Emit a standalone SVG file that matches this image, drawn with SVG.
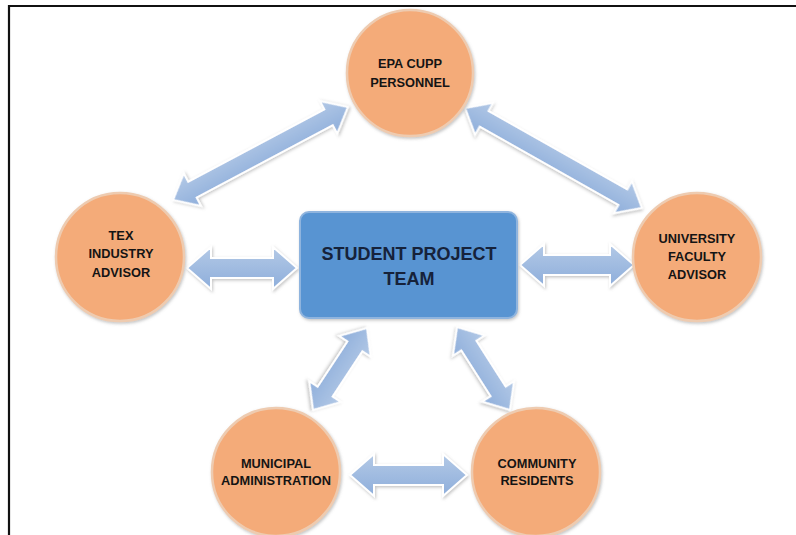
<svg xmlns="http://www.w3.org/2000/svg" width="796" height="535" viewBox="0 0 796 535">
<defs>
<filter id="sh" x="-20%" y="-20%" width="140%" height="140%">
<feDropShadow dx="1" dy="1.5" stdDeviation="1.5" flood-color="#7a7a7a" flood-opacity="0.45"/>
</filter>
<linearGradient id="ag" x1="0" y1="0" x2="0" y2="1">
<stop offset="0" stop-color="#b3c9e6"/>
<stop offset="1" stop-color="#8eaedb"/>
</linearGradient>
</defs>
<style>
.circ{fill:#f4ab79;stroke:#eecbb0;stroke-width:2.5;filter:url(#sh)}
.box{fill:#5894d2;stroke:#8fb4de;stroke-width:2;filter:url(#sh)}
.arr{fill:url(#ag);stroke:#ffffff;stroke-width:2;stroke-linejoin:miter;filter:url(#sh)}
.t{font-family:"Liberation Sans",Arial,sans-serif;font-weight:bold;font-size:12.8px;fill:#141414;text-anchor:middle}
.tb{font-family:"Liberation Sans",Arial,sans-serif;font-weight:bold;font-size:18px;fill:#16223a;text-anchor:middle}
</style>
<rect width="796" height="535" fill="#ffffff"/>
<g id="border" stroke="#111" stroke-width="2.2" fill="none">
<line x1="8" y1="6" x2="796" y2="6"/>
<line x1="9" y1="5" x2="9" y2="535"/>
</g>
<g id="connectors">
<path class="arr" transform="translate(260.5,153.5) rotate(-27.99)" d="M-99.1 0 L-77.1 -18.5 L-77.1 -9 L77.1 -9 L77.1 -18.5 L99.1 0 L77.1 18.5 L77.1 9 L-77.1 9 L-77.1 18.5 Z"/>
<path class="arr" transform="translate(553.5,158) rotate(29.46)" d="M-101.6 0 L-79.6 -18.5 L-79.6 -9 L79.6 -9 L79.6 -18.5 L101.6 0 L79.6 18.5 L79.6 9 L-79.6 9 L-79.6 18.5 Z"/>
<path class="arr" transform="translate(242,268)" d="M-55 0 L-31 -21 L-31 -10 L31 -10 L31 -21 L55 0 L31 21 L31 10 L-31 10 L-31 21 Z"/>
<path class="arr" transform="translate(577,265)" d="M-57 0 L-33 -21 L-33 -10 L33 -10 L33 -21 L57 0 L33 21 L33 10 L-33 10 L-33 21 Z"/>
<path class="arr" transform="translate(340,369) rotate(123.37)" d="M-49.1 0 L-27.1 -19 L-27.1 -9 L27.1 -9 L27.1 -19 L49.1 0 L27.1 19 L27.1 9 L-27.1 9 L-27.1 19 Z"/>
<path class="arr" transform="translate(483.5,368.5) rotate(57.44)" d="M-49.2 0 L-27.2 -19 L-27.2 -9 L27.2 -9 L27.2 -19 L49.2 0 L27.2 19 L27.2 9 L-27.2 9 L-27.2 19 Z"/>
<path class="arr" transform="translate(408.5,475)" d="M-58.5 0 L-34.5 -21 L-34.5 -10 L34.5 -10 L34.5 -21 L58.5 0 L34.5 21 L34.5 10 L-34.5 10 L-34.5 21 Z"/>
</g>
<g id="epa">
<circle class="circ" cx="410" cy="73" r="63"/>
<text class="t" x="410" y="67.5">EPA CUPP</text>
<text class="t" x="410" y="86.5">PERSONNEL</text>
</g>
<g id="tex">
<circle class="circ" cx="120" cy="257" r="64"/>
<text class="t" x="121" y="239.5">TEX</text>
<text class="t" x="121" y="257.5">INDUSTRY</text>
<text class="t" x="121" y="276.5">ADVISOR</text>
</g>
<g id="univ">
<circle class="circ" cx="697" cy="257" r="64"/>
<text class="t" x="697" y="242.5">UNIVERSITY</text>
<text class="t" x="697" y="260.5">FACULTY</text>
<text class="t" x="697" y="278.5">ADVISOR</text>
</g>
<g id="student">
<rect class="box" x="300" y="212" width="217" height="106" rx="9"/>
<text class="tb" x="409" y="259.5">STUDENT PROJECT</text>
<text class="tb" x="409" y="284.5">TEAM</text>
</g>
<g id="municipal">
<circle class="circ" cx="276" cy="472" r="64"/>
<text class="t" x="276" y="467.5">MUNICIPAL</text>
<text class="t" x="276" y="484.5">ADMINISTRATION</text>
</g>
<g id="community">
<circle class="circ" cx="536" cy="472" r="64"/>
<text class="t" x="537" y="467.5">COMMUNITY</text>
<text class="t" x="537" y="485">RESIDENTS</text>
</g>
</svg>
